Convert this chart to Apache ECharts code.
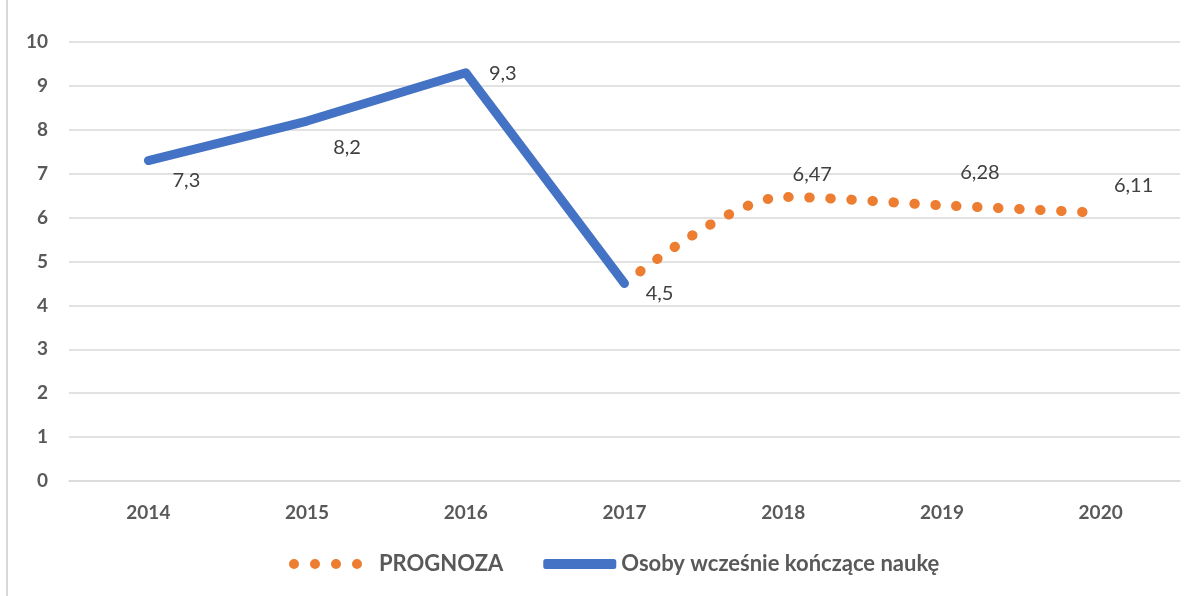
<!DOCTYPE html>
<html>
<head>
<meta charset="utf-8">
<script src="https://cdn.jsdelivr.net/npm/echarts@6/dist/echarts.min.js"></script>
<style>
  html, body { margin: 0; padding: 0; background: #fff; }
  #chart { width: 1195px; height: 596px; }
  #frame { position: absolute; left: 6px; top: 0; width: 2px; height: 596px; background: #d9d9d9; }
</style>
</head>
<body>
<div id="frame"></div>
<div id="chart"></div>
<script>
const years = ['2014', '2015', '2016', '2017', '2018', '2019', '2020']
const actual = [7.3, 8.2, 9.3, 4.5, '-', '-', '-']
const forecast = ['-', '-', '-', 4.5, 6.47, 6.28, 6.11]
const yTicks = [0, 1, 2, 3, 4, 5, 6, 7, 8, 9, 10]

// label offsets per point
const actualOffsets = [[38, 20], [40, 27], [37, 1], [35, 10]]
const forecastOffsets = [null, null, null, null, [29, -22], [38, -33], [33, -27]]

const fontFamily = 'Lato, "Liberation Sans", sans-serif'
const comma = p => String(p.value).replace('.', ',')

// four dots for the forecast legend key
const dotsIcon = 'path://' + [5, 26, 47, 68].map(c =>
  `M${c - 5},5a5,5 0 1,0 10,0a5,5 0 1,0 -10,0Z`).join('')

const chart = echarts.init(document.getElementById('chart'))

chart.setOption({
  animation: false,
  grid: { left: 69, right: 15, top: 42, bottom: 115 },
  xAxis: {
    type: 'category',
    data: years,
    boundaryGap: true,
    axisLine: { lineStyle: { color: '#d9d9d9', width: 1.5 } },
    axisTick: { show: false },
    axisLabel: { color: '#595959', fontSize: 19, fontWeight: 'bold', fontFamily, margin: 22 }
  },
  yAxis: {
    type: 'value',
    min: yTicks[0],
    max: yTicks[yTicks.length - 1],
    interval: 1,
    axisLine: { show: false },
    axisTick: { show: false },
    axisLabel: { color: '#595959', fontSize: 19, fontWeight: 'bold', fontFamily, margin: 21 },
    splitLine: { lineStyle: { color: '#d9d9d9', width: 1.5 } }
  },
  legend: {
    bottom: 16,
    left: 284,
    itemWidth: 73,
    itemHeight: 10,
    itemGap: 40,
    textStyle: { color: '#595959', fontSize: 22, fontWeight: 'bold', fontFamily },
    data: [
      {
        name: 'PROGNOZA',
        icon: dotsIcon,
        itemStyle: { color: '#ED7D31', opacity: 1 },
        textStyle: { padding: [0, 0, 0, 12] }
      },
      { name: 'Osoby wcześnie kończące naukę', icon: 'roundRect', itemStyle: { color: '#4472C4', opacity: 1 } }
    ]
  },
  series: [
    {
      name: 'PROGNOZA',
      type: 'line',
      data: forecast.map((v, i) => ({
        value: v,
        label: forecastOffsets[i] ? { show: true, offset: forecastOffsets[i] } : { show: false }
      })),
      smooth: 0.3,
      showSymbol: true,
      symbol: 'circle',
      symbolSize: 1,
      itemStyle: { color: 'rgba(0,0,0,0)' },
      lineStyle: { color: '#ED7D31', width: 10, type: [0.5, 20.5], cap: 'round', dashOffset: -20 },
      label: { position: 'inside', color: '#404040', fontSize: 20, fontFamily, formatter: comma },
      z: 2
    },
    {
      name: 'Osoby wcześnie kończące naukę',
      type: 'line',
      data: actual.map((v, i) => ({
        value: v,
        label: { show: true, offset: actualOffsets[i] || [0, 0] }
      })),
      showSymbol: true,
      symbol: 'circle',
      symbolSize: 1,
      itemStyle: { color: 'rgba(0,0,0,0)' },
      lineStyle: { color: '#4472C4', width: 9, cap: 'round', join: 'round' },
      label: { position: 'inside', color: '#404040', fontSize: 20, fontFamily, formatter: comma },
      z: 3
    }
  ]
})
</script>
</body>
</html>
